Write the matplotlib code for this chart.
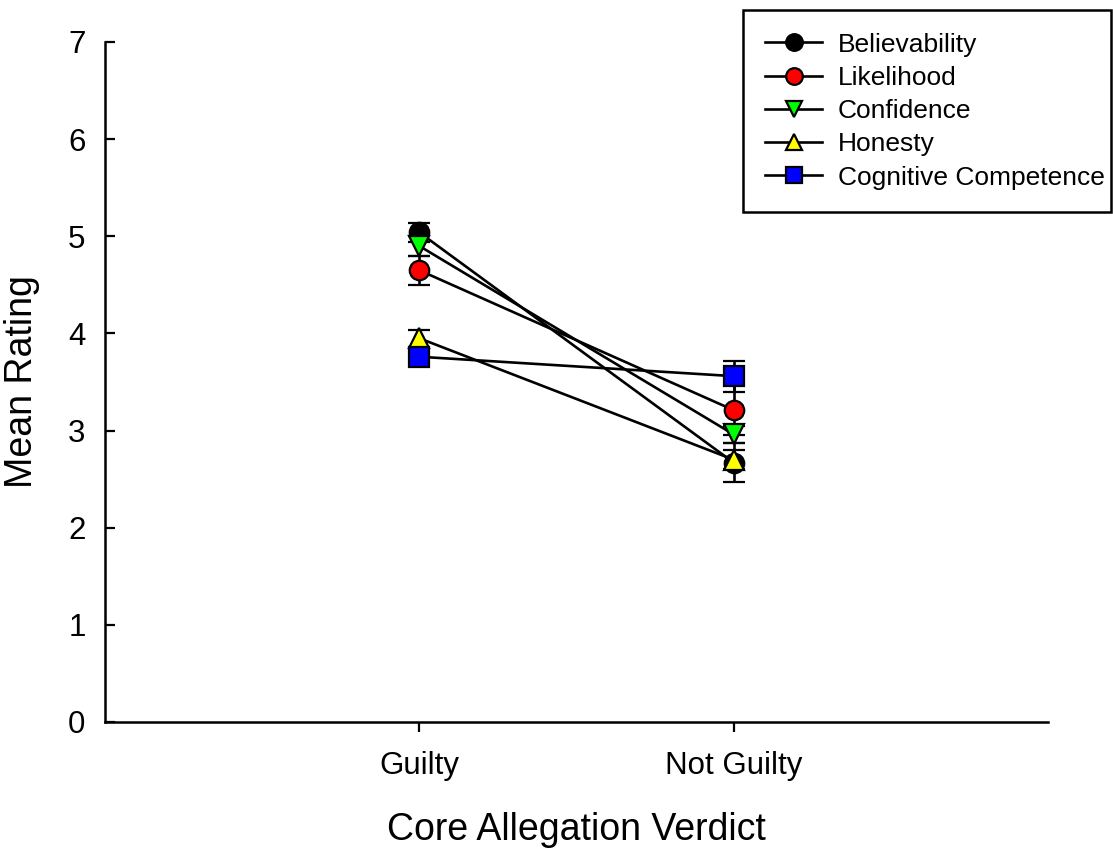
import matplotlib
matplotlib.use("Agg")
import matplotlib.pyplot as plt
from matplotlib.lines import Line2D

# Mean ratings (± SE) by core allegation verdict
verdicts = ["Guilty", "Not Guilty"]
measures = ["Believability", "Likelihood", "Confidence", "Honesty", "Cognitive Competence"]
believability = [5.04, 2.67]
believability_se = [0.10, 0.20]
likelihood = [4.65, 3.21]
likelihood_se = [0.15, 0.26]
confidence = [4.90, 2.96]
confidence_se = [0.10, 0.09]
honesty = [3.95, 2.70]
honesty_se = [0.09, 0.10]
cognitive = [3.76, 3.56]
cognitive_se = [0.08, 0.16]

means = [believability, likelihood, confidence, honesty, cognitive]
errors = [believability_se, likelihood_se, confidence_se, honesty_se, cognitive_se]
markers = ["o", "o", "v", "^", "s"]
colors = ["#000000", "#ff0000", "#00ff00", "#ffff00", "#0000ff"]

plt.rcParams["font.family"] = ["Liberation Sans", "DejaVu Sans"]

fig = plt.figure(figsize=(11.13, 8.5), dpi=100)
ax = fig.add_axes([0.0943, 0.1506, 0.8473, 0.8])

x = [1, 2]
handles = []
for name, y, se, m, c in zip(measures, means, errors, markers, colors):
    style = dict(color="black", lw=1.9, marker=m, markerfacecolor=c,
                 markeredgecolor="black", markeredgewidth=1.6)
    ax.errorbar(x, y, yerr=se, elinewidth=1.9, capsize=8, capthick=1.9,
                markersize=14, **style)
    # legend keys show line + marker only, no error bars
    handles.append(Line2D([], [], markersize=12, label=name, **style))

ax.set_xlim(0, 3)
ax.set_ylim(0, 7)
ax.set_xticks(x, verdicts)
ax.set_yticks(range(8))
ax.spines["top"].set_visible(False)
ax.spines["right"].set_visible(False)
for s in ("left", "bottom"):
    ax.spines[s].set_linewidth(1.8)
ax.tick_params(axis="y", direction="in", length=7, width=1.6, labelsize=22.5, pad=14)
ax.tick_params(axis="x", direction="out", length=7, width=1.6, labelsize=22.5, pad=14)
ax.set_xlabel("Core Allegation Verdict", fontsize=27, labelpad=22)
ax.set_ylabel("Mean Rating", fontsize=27, labelpad=20)

leg = fig.legend(handles=handles, loc="upper left",
                 bbox_to_anchor=(0.6676, 0.749, 0.3305, 0.239),
                 mode="expand", fontsize=19, fancybox=False, edgecolor="black",
                 framealpha=1, handlelength=2.15, handletextpad=0.6,
                 labelspacing=0.35, borderpad=0.85, borderaxespad=0)
leg.get_frame().set_linewidth(1.8)

fig.savefig("out.png", dpi=100)
